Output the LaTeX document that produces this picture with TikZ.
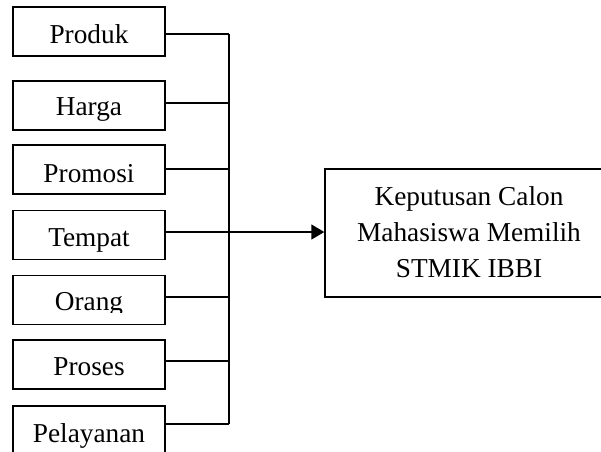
\documentclass[tikz,border=0pt]{standalone}
\usepackage{fontspec}
\setmainfont{Liberation Serif}
\usetikzlibrary{arrows.meta}
\begin{document}
\begin{tikzpicture}[x=1pt,y=-1pt,
  box/.style={draw,line width=1.4pt,minimum width=152pt,minimum height=49pt,inner sep=0pt},
  txt/.style={inner sep=0pt,anchor=base,font=\fontsize{27.3}{36}\selectfont},
  conn/.style={line width=1.4pt},
  arr/.style={line width=1.4pt,-{Triangle[length=13pt,width=15pt]}}]
\useasboundingbox (0,0) rectangle (601,451);
% left boxes
\node[box] (p1) at (89,31.5) {};
\node[txt] (t1) at (89,43) {Produk};
\node[box] (p2) at (89,105.5) {};
\node[txt] (t2) at (89,115) {Harga};
\node[box] (p3) at (89,169.5) {};
\node[txt] (t3) at (89,182) {Promosi};
\node[box] (p4) at (89,235) {};
\node[txt] (t4) at (89,246) {Tempat};
\node[box] (p5) at (89,300) {};
\begin{scope}
\clip (13,276) rectangle (165,312);
\node[txt] (t5) at (89,310) {Orang};
\end{scope}
\node[box] (p6) at (89,364.5) {};
\node[txt] (t6) at (89,375) {Proses};
\node[box] (p7) at (89,430.5) {};
\node[txt] (t7) at (89,442) {Pelayanan};
% right box
\node[box,minimum width=288pt,minimum height=128pt] (r) at (469,233) {};
\node[txt,align=center] (rt) at (469,277) {Keputusan Calon\\Mahasiswa Memilih\\STMIK IBBI};
% bus
\coordinate (bt) at (229,34);
\coordinate (bb) at (229,424);
\draw[conn] (bt) -- (bb);
\draw[conn] ([yshift=-2.5pt]p1.east) -- ([yshift=-2.5pt]p1.east -| bt);
\draw[conn] ([yshift=2.5pt]p2.east) -- ([yshift=2.5pt]p2.east -| bt);
\draw[conn] ([yshift=0.5pt]p3.east) -- ([yshift=0.5pt]p3.east -| bt);
\draw[conn] ([yshift=3pt]p4.east) -- ([yshift=3pt]p4.east -| bt);
\draw[conn] ([yshift=3pt]p5.east) -- ([yshift=3pt]p5.east -| bt);
\draw[conn] ([yshift=3.5pt]p6.east) -- ([yshift=3.5pt]p6.east -| bt);
\draw[conn] ([yshift=6.5pt]p7.east) -- ([yshift=6.5pt]p7.east -| bt);
\draw[arr] ([yshift=3pt]p4.east -| bt) -- ([yshift=3pt]p4.east -| r.west);
\end{tikzpicture}
\end{document}
